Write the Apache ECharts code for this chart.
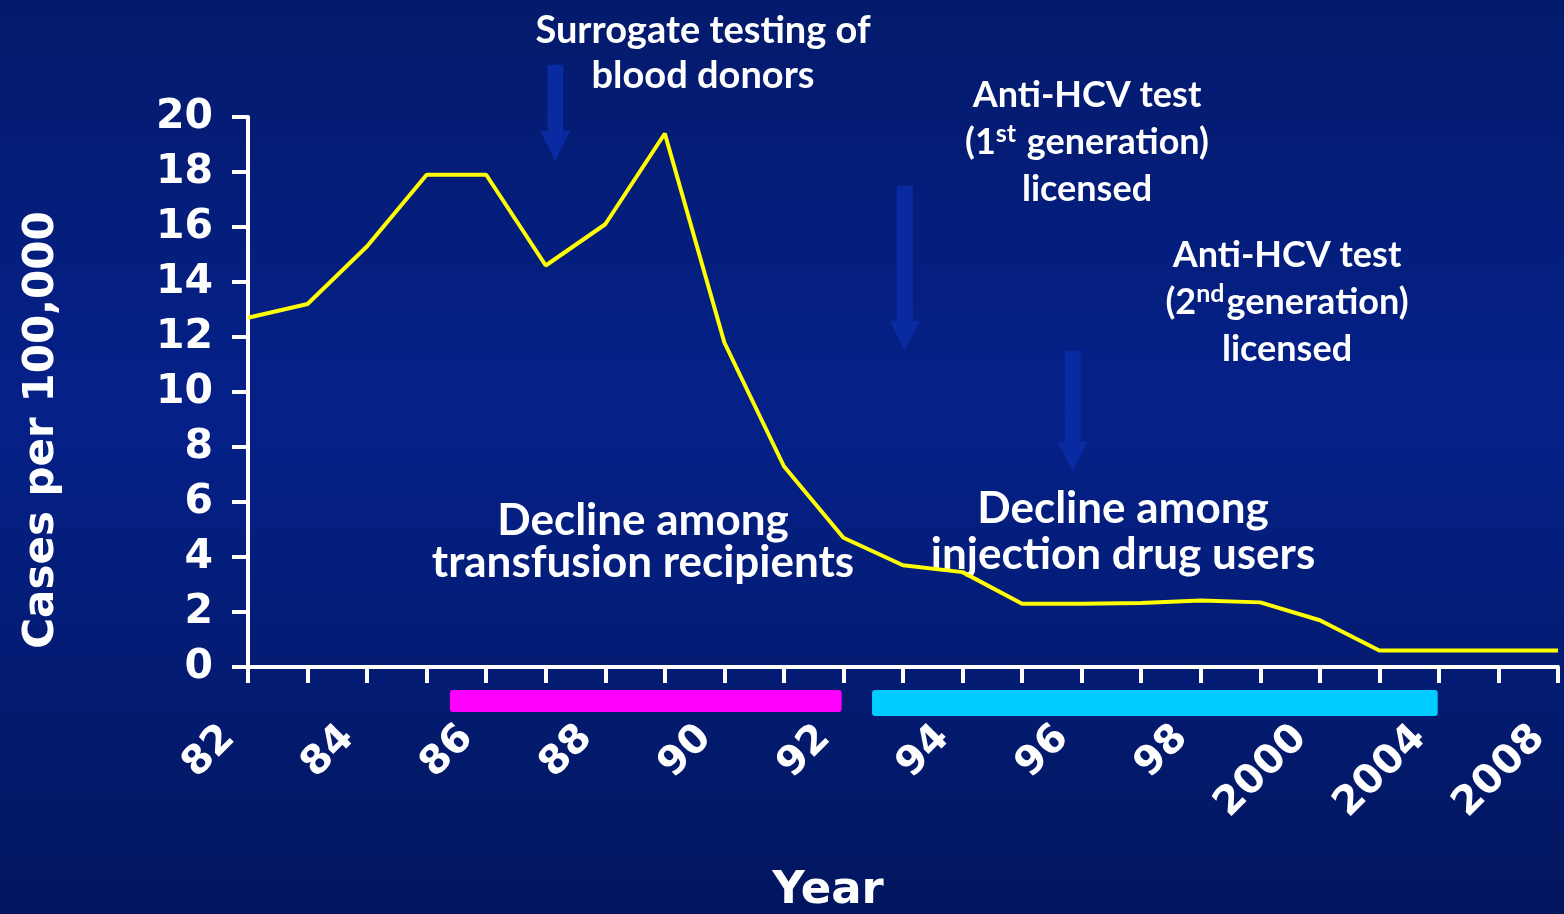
<!DOCTYPE html>
<html>
<head>
<meta charset="utf-8">
<title>Acute hepatitis C incidence</title>
<script src="https://cdn.jsdelivr.net/npm/echarts@6/dist/echarts.min.js"></script>
<style>
  html, body { margin: 0; padding: 0; }
  #chart { width: 1564px; height: 914px; }
</style>
</head>
<body>
<div id="chart"></div>
<script>
// year categories (one tick each, every other one labelled)
const years = ['82', '83', '84', '85', '86', '87', '88', '89', '90', '91', '92', '93',
  '94', '95', '96', '97', '98', '99', '2000', '2002', '2004', '2006', '2008']
// cases per 100,000
const cases = [12.7, 13.2, 15.3, 17.9, 17.9, 14.6, 16.1, 19.4, 11.8, 7.3, 4.7, 3.7,
  3.45, 2.3, 2.3, 2.33, 2.42, 2.35, 1.7, 0.6, 0.6, 0.6, 0.6]
// decline periods, in category index units: [start, end]
const transfusionPeriod = [3.39, 9.97]
const drugUserPeriod = [10.48, 19.98]
// event arrows: [x index, top value, tip value]
const eventArrows = [
  [5.16, 21.9, 18.4],
  [11.03, 17.5, 11.5],
  [13.85, 11.5, 7.1]
]

const chart = echarts.init(document.getElementById('chart'))

const numFont = 'DejaVu Sans'
const noteFont = 'Lato'

const noteText = (x, y, text, size, lineHeight) => ({
  type: 'text',
  x: x,
  y: y,
  style: {
    text: text,
    fill: '#ffffff',
    font: 'bold ' + size + 'px ' + noteFont,
    align: 'center',
    verticalAlign: 'middle',
    lineHeight: lineHeight
  }
})

const supRich = {
  a: { fontSize: 36, fontWeight: 'bold', fontFamily: noteFont, color: '#fff', lineHeight: 47 },
  s: { fontSize: 25, fontWeight: 'bold', fontFamily: noteFont, color: '#fff', verticalAlign: 'bottom', padding: [0, 2, 19, 0] }
}

const option = {
  backgroundColor: new echarts.graphic.LinearGradient(0, 0, 0, 1, [
    { offset: 0, color: '#041a6c' },
    { offset: 0.45, color: '#052189' },
    { offset: 1, color: '#02165e' }
  ]),
  animation: false,
  grid: {
    left: 248,
    right: 6,
    top: 117,
    bottom: 247,
    containLabel: false,
    outerBoundsMode: 'none'
  },
  xAxis: [
    {
      type: 'category',
      data: years,
      boundaryGap: false,
      name: 'Year',
      nameLocation: 'middle',
      nameGap: 202,
      nameMoveOverlap: false,
      nameTextStyle: {
        color: '#fff',
        fontFamily: numFont,
        fontWeight: 'bold',
        fontSize: 45,
        padding: [0, 150, 0, 0]
      },
      axisLine: { lineStyle: { color: '#fff', width: 4 } },
      axisTick: {
        show: true,
        interval: 0,
        length: 16,
        lineStyle: { color: '#fff', width: 4 }
      },
      axisLabel: {
        interval: 1,
        rotate: 45,
        margin: 46,
        padding: [0, 27, 0, 0],
        color: '#fff',
        fontFamily: numFont,
        fontWeight: 'bold',
        fontSize: 40
      },
      splitLine: { show: false }
    },
    {
      type: 'value',
      min: 0,
      max: years.length - 1,
      show: false
    }
  ],
  yAxis: {
    type: 'value',
    min: 0,
    max: 20,
    interval: 2,
    name: 'Cases per 100,000',
    nameLocation: 'middle',
    nameGap: 185,
    nameMoveOverlap: false,
    nameTextStyle: {
      color: '#fff',
      fontFamily: numFont,
      fontWeight: 'bold',
      fontSize: 42,
      padding: [0, 76, 0, 0]
    },
    axisLine: { show: true, lineStyle: { color: '#fff', width: 4 } },
    axisTick: { show: true, length: 16, lineStyle: { color: '#fff', width: 4 } },
    axisLabel: {
      margin: 35,
      color: '#fff',
      fontFamily: numFont,
      fontWeight: 'bold',
      fontSize: 41
    },
    splitLine: { show: false }
  },
  series: [
    {
      name: 'Cases',
      type: 'line',
      data: cases,
      symbol: 'none',
      lineStyle: { color: '#ffff00', width: 4 },
      z: 5
    },
    {
      name: 'Periods',
      type: 'custom',
      xAxisIndex: 1,
      clip: false,
      data: [
        [transfusionPeriod[0], transfusionPeriod[1], 0],
        [drugUserPeriod[0], drugUserPeriod[1], 1]
      ],
      renderItem: (params, api) => {
        const p0 = api.coord([api.value(0), 0])
        const p1 = api.coord([api.value(1), 0])
        const isFirst = api.value(2) === 0
        return {
          type: 'rect',
          shape: { x: p0[0], y: p0[1] + 23, width: p1[0] - p0[0], height: isFirst ? 22 : 26, r: 3 },
          style: { fill: isFirst ? '#ff00ff' : '#00ccff' }
        }
      }
    },
    {
      name: 'Events',
      type: 'custom',
      xAxisIndex: 1,
      clip: false,
      data: eventArrows,
      renderItem: (params, api) => {
        const top = api.coord([api.value(0), api.value(1)])
        const tip = api.coord([api.value(0), api.value(2)])
        const x = top[0]
        const head = 30
        const shaft = 8
        const wing = 15
        return {
          type: 'polygon',
          shape: {
            points: [
              [x - shaft, top[1]], [x + shaft, top[1]],
              [x + shaft, tip[1] - head], [x + wing, tip[1] - head],
              [x, tip[1]],
              [x - wing, tip[1] - head], [x - shaft, tip[1] - head]
            ]
          },
          style: { fill: '#0a2aa2' }
        }
      },
      z: 1
    }
  ],
  graphic: [
    noteText(703, 53, 'Surrogate testing of\nblood donors', 38, 45),
    {
      type: 'text',
      x: 1087,
      y: 142,
      style: {
        text: '{a|Anti-HCV test}\n{a|(1}{s|st}{a| generation)}\n{a|licensed}',
        rich: supRich,
        fill: '#fff',
        align: 'center',
        verticalAlign: 'middle'
      }
    },
    {
      type: 'text',
      x: 1287,
      y: 302,
      style: {
        text: '{a|Anti-HCV test}\n{a|(2}{s|nd}{a|generation)}\n{a|licensed}',
        rich: supRich,
        fill: '#fff',
        align: 'center',
        verticalAlign: 'middle'
      }
    },
    noteText(643, 542, 'Decline among\ntransfusion recipients', 44, 42),
    noteText(1123, 532, 'Decline among\ninjection drug users', 44, 46)
  ]
}

chart.setOption(option)

window.addEventListener('resize', () => chart.resize())
</script>
</body>
</html>
